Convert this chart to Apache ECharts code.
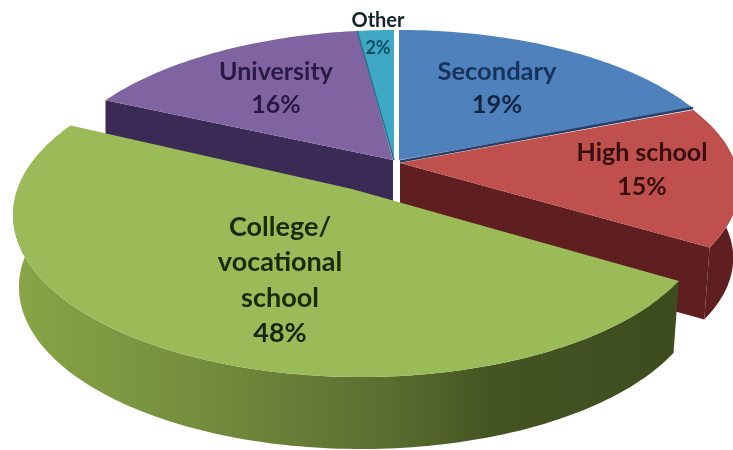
<!DOCTYPE html>
<html>
<head>
<meta charset="utf-8">
<style>html,body{margin:0;padding:0;background:#fff}#c{width:733px;height:450px}</style>
<script src="https://cdn.jsdelivr.net/npm/echarts@6/dist/echarts.min.js"></script>
</head>
<body>
<div id="c"></div>
<script>
var categories = ['Secondary', 'High school', 'College/\nvocational\nschool', 'University', 'Other'];
var shares = [19, 15, 48, 16, 2];

/* drawing style only: projected ellipse, apex, layering and colours of each slice */
var tilt = 0.165, depth = 72, shrink = 0.983;
var looks = [
  {cx:399,cy:187,rx:340,ry:157,ax:399,ay:160,z:3,top:'#4f81bd'},
  {cx:399,cy:186,rx:340,ry:151,ax:400,ay:163,z:4,top:'#c0504d',side:'#5f1e1f',end:true,arc:true},
  {cx:361,cy:215,rx:348,ry:162,ax:352,ay:189,z:5,top:'#9bbb59',
    side:[[0,'#88a546'],[0.25,'#76903f'],[0.45,'#667a36'],[0.6,'#56682d'],[0.72,'#445422'],[1,'#3d4c1e']],arc:true},
  {cx:394,cy:187,rx:346,ry:157,ax:393,ay:160,z:1,top:'#8064a2',side:'#3b2a55',start:true},
  {cx:394,cy:187,rx:346,ry:157,ax:394,ay:160,z:2,top:'#3fa8c4'}
];
var labels = [
  {x:497,y:72,lh:33,size:25.5,pctSize:25.5,name:'#17335c',pct:'#122543'},
  {x:642,y:153,lh:34,size:25,pctSize:25,name:'#380d0d',pct:'#380d0d'},
  {x:280,y:227,lh:35.5,size:27,pctSize:27,name:'#1a2b0a',pct:'#172608'},
  {x:276,y:72,lh:33,size:25,pctSize:25,name:'#291a45',pct:'#291a45'},
  {x:378,y:21,lh:27,size:20,pctSize:18,name:'#15242a',pct:'#0f4f60'}
];

var total = shares.reduce(function (a, b) { return a + b; }, 0);

function rim(s, t, dropped) {
  var c = Math.cos(t), sn = Math.sin(t), w = 1 + tilt * c;
  var cp = (c + tilt) / w, sp = Math.sqrt(1 - tilt * tilt) * sn / w;
  var k = dropped ? shrink : 1;
  return [s.cx + s.rx * k * sp, s.cy - s.ry * cp + (dropped ? depth : 0)];
}
function arcPoints(s, t0, t1, dropped) {
  var n = Math.max(4, Math.ceil((t1 - t0) / 0.02)), out = [];
  for (var i = 0; i <= n; i++) out.push(rim(s, t0 + (t1 - t0) * i / n, dropped));
  return out;
}

function renderItem(params, api) {
  var i = params.dataIndex, s = looks[i], l = labels[i], before = 0;
  for (var j = 0; j < i; j++) before += shares[j];
  var t0 = before / total * 2 * Math.PI;
  var t1 = (before + api.value(0)) / total * 2 * Math.PI;
  var kids = [];
  var poly = function (pts, fill, z) {
    kids.push({type:'polygon', z2:z, shape:{points:pts}, style:{fill:fill, stroke:null}});
  };
  var apex = [s.ax, s.ay], apexLow = [s.ax, s.ay + depth];
  var zb = s.z * 10;
  if (s.start) { var a = rim(s, t0); poly([apex, a, [a[0], a[1] + depth], apexLow], s.side, zb); }
  if (s.end) {
    var b = rim(s, t1), b2 = rim(s, t1, true);
    poly([apex, b, b2, apexLow], s.side, zb);
  }
  if (s.arc) {
    var fill = s.side;
    if (Array.isArray(fill)) {
      fill = new echarts.graphic.LinearGradient(0, 0, 1, 0, fill.map(function (g) { return {offset:g[0], color:g[1]}; }));
    }
    poly(arcPoints(s, t0, t1).concat(arcPoints(s, t0, t1, true).reverse()), fill, zb + 1);
  }
  poly([apex].concat(arcPoints(s, t0, t1)), s.top, zb + 2);
  if (i === 1) {
    kids.push({type:'polyline', z2:zb + 3, shape:{points:[[400, 161.5], rim(looks[0], t0)]}, style:{stroke:'#2b3f66', lineWidth:2.5, fill:null}});
  }
  if (i === 4) {
    kids.push({type:'polyline', z2:zb + 3, shape:{points:[apex, rim(s, t0)]}, style:{stroke:'#25718c', lineWidth:1.5, fill:null}});
  }
  var lines = categories[i].split('\n');
  var fontFor = function (sz) { return 'bold ' + sz + 'px Lato, "Open Sans", sans-serif'; };
  lines.forEach(function (tx, n) {
    kids.push({type:'text', z2:200, style:{text:tx, x:l.x, y:l.y + n * l.lh, align:'center', verticalAlign:'middle', font:fontFor(l.size), fill:l.name}});
  });
  kids.push({type:'text', z2:200, style:{text:api.value(0) + '%', x:l.x, y:l.y + lines.length * l.lh, align:'center', verticalAlign:'middle', font:fontFor(l.pctSize), fill:l.pct}});
  return {type:'group', children:kids};
}

var chart = echarts.init(document.getElementById('c'), null, {renderer:'canvas', width:733, height:450});
chart.setOption({
  animation:false,
  backgroundColor:'#ffffff',
  series:[{
    type:'custom',
    coordinateSystem:'none',
    renderItem:renderItem,
    silent:true,
    data:shares.map(function (v) { return [v]; })
  }],
  graphic:[{type:'line', z:50, shape:{x1:397, y1:30, x2:397, y2:200}, style:{stroke:'#ffffff', lineWidth:3}}]
});
</script>
</body>
</html>
